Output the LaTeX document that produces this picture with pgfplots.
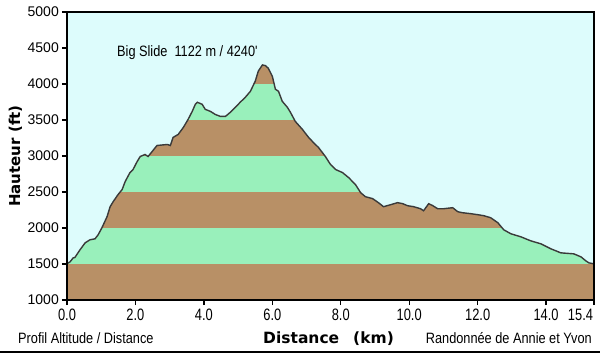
\documentclass[border=0pt]{standalone}
\usepackage{pgfplots}
\pgfplotsset{compat=1.18}
\usepackage{pgfplotstable}
\usepackage{fontspec}
\setmainfont{Liberation Sans}
\newfontfamily\narrow[FakeStretch=0.85]{Liberation Sans}
\newfontfamily\narrowx[FakeStretch=0.78]{Liberation Sans}
\newfontfamily\dejavu{DejaVu Sans}
\definecolor{skybg}{RGB}{221,252,252}
\definecolor{bandgreen}{RGB}{153,240,187}
\definecolor{bandbrown}{RGB}{184,144,102}
\definecolor{profline}{RGB}{58,58,58}

\pgfplotstableread{
km ft
0.00 1505
0.09 1530
0.18 1585
0.23 1590
0.38 1697
0.53 1794
0.67 1836
0.82 1850
0.91 1906
1.02 2003
1.17 2157
1.26 2296
1.35 2366
1.49 2463
1.61 2533
1.70 2645
1.84 2770
1.93 2812
2.05 2923
2.14 2993
2.28 3021
2.37 2993
2.49 3063
2.63 3146
2.93 3160
3.02 3146
3.10 3258
3.25 3300
3.40 3397
3.54 3509
3.66 3620
3.75 3718
3.81 3746
3.95 3718
4.04 3648
4.19 3620
4.33 3578
4.48 3550
4.63 3550
4.77 3606
4.92 3676
5.06 3746
5.21 3815
5.36 3899
5.50 4038
5.59 4178
5.71 4265
5.80 4255
5.88 4220
6.00 4108
6.09 3927
6.18 3899
6.29 3760
6.44 3676
6.53 3606
6.67 3481
6.88 3369
7.06 3258
7.20 3188
7.35 3118
7.55 2993
7.70 2882
7.85 2812
8.05 2770
8.23 2700
8.43 2603
8.58 2491
8.72 2435
8.93 2408
9.10 2352
9.25 2296
9.46 2324
9.66 2352
9.81 2338
9.95 2310
10.13 2296
10.33 2268
10.42 2240
10.57 2338
10.69 2310
10.83 2268
11.01 2268
11.27 2282
11.42 2226
11.56 2212
11.80 2199
12.00 2185
12.18 2171
12.38 2143
12.59 2073
12.76 1976
12.97 1920
13.26 1878
13.55 1822
13.85 1780
14.14 1711
14.43 1655
14.81 1641
15.02 1599
15.16 1544
15.25 1516
15.40 1502
}\profile

\begin{document}
\begin{tikzpicture}
\fill[white] (-67bp,-54bp) rectangle (533bp,300bp);
\path[use as bounding box] (-67bp,-54bp) rectangle (533bp,300bp);
\begin{axis}[
  at={(0,0)}, anchor=south west,
  scale only axis,
  width=527bp, height=288bp,
  xmin=0, xmax=15.4, ymin=1000, ymax=5000,
  axis background/.style={fill=skybg},
  axis line style={black, line width=1.6bp},
  tick style={black, line width=1.4bp},
  tick align=outside,
  major tick length=5bp,
  xtick={0,2,4,6,8,10,12,14,15.4},
  xticklabels={0.0,2.0,4.0,6.0,8.0,10.0,12.0,14.0,\makebox[0pt][r]{15.4\hspace{1bp}}},
  ytick={1000,1500,2000,2500,3000,3500,4000,4500,5000},
  yticklabels={1000,1500,2000,2500,3000,3500,4000,4500,5000},
  xticklabel style={font=\narrowx\fontsize{16.5bp}{18bp}\selectfont, inner sep=1bp, yshift=-3bp},
  yticklabel style={font=\fontsize{14bp}{16bp}\selectfont, inner sep=1bp, xshift=-2bp},
  xtick pos=bottom, ytick pos=left,
  axis on top,
  clip=true,
]
\addplot[fill=bandbrown, draw=none] coordinates {(0,1000) (15.4,1000) (15.4,1500) (0,1500)} -- cycle;
\addplot[fill=bandgreen, draw=none] coordinates {(0,1500) (15.4,1500) (15.4,2000) (0,2000)} -- cycle;
\addplot[fill=bandbrown, draw=none] coordinates {(0,2000) (15.4,2000) (15.4,2500) (0,2500)} -- cycle;
\addplot[fill=bandgreen, draw=none] coordinates {(0,2500) (15.4,2500) (15.4,3000) (0,3000)} -- cycle;
\addplot[fill=bandbrown, draw=none] coordinates {(0,3000) (15.4,3000) (15.4,3500) (0,3500)} -- cycle;
\addplot[fill=bandgreen, draw=none] coordinates {(0,3500) (15.4,3500) (15.4,4000) (0,4000)} -- cycle;
\addplot[fill=bandbrown, draw=none] coordinates {(0,4000) (15.4,4000) (15.4,4500) (0,4500)} -- cycle;
% sky above the profile
\addplot[fill=skybg, draw=none] table[x=km, y=ft] {\profile} -- (axis cs:15.4,5000) -- (axis cs:0,5000) -- cycle;
% profile line
\addplot[profline, line width=1.4bp] table[x=km, y=ft] {\profile};
\end{axis}
\node[anchor=base west, inner sep=0pt, font=\narrow\fontsize{15bp}{18bp}\selectfont] at (50bp,243bp) {Big Slide\ \ 1122 m / 4240'};
\node[rotate=90, inner sep=0pt, font=\dejavu\bfseries\fontsize{15bp}{18bp}\selectfont] at (-51.5bp,144bp) {Hauteur (ft)};
\node[anchor=base west, inner sep=0pt, font=\narrow\fontsize{15bp}{18bp}\selectfont] at (-49bp,-43bp) {Profil Altitude / Distance};
\node[anchor=base west, inner sep=0pt, font=\dejavu\bfseries\fontsize{15.5bp}{18bp}\selectfont] at (196bp,-43bp) {Distance\hspace{14bp}(km)};
\node[anchor=base east, inner sep=0pt, font=\narrow\fontsize{15bp}{18bp}\selectfont] at (525bp,-43bp) {Randonnée de Annie et Yvon};
\draw[black, line width=2bp] (-67bp,-52bp) -- (533bp,-52bp);
\end{tikzpicture}
\end{document}
